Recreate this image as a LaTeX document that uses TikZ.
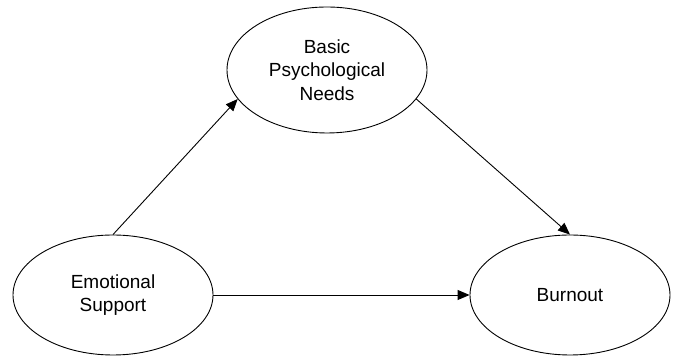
\documentclass[tikz,border=0pt]{standalone}
\usepackage{fontspec}
\setmainfont{Liberation Sans}
\usetikzlibrary{shapes.geometric, arrows.meta}

\begin{document}
\begin{tikzpicture}[>={Triangle[length=12pt, width=10pt]}, line width=0.9pt,
        font=\fontsize{19}{23.5}\selectfont]
        \useasboundingbox (0pt,0pt) rectangle (677pt,363pt);
        \node[draw, ellipse, align=center, inner sep=0pt, minimum width=200pt, minimum height=126pt]
            (A0) at (327pt,293pt) {Basic\\Psychological\\Needs};
        \node[draw, ellipse, align=center, inner sep=0pt, minimum width=200pt, minimum height=120pt]
            (A1) at (113pt,68pt)  {Emotional\\Support};
        \node[draw, ellipse, align=center, inner sep=0pt, minimum width=200pt, minimum height=120pt]
            (A2) at (570pt,68pt)  {Burnout};

        \draw[->] (A1.north) -- (A0.198);
        \draw[->] (A0.-18) -- (A2.north);
        \draw[->] (A1) -- (A2);
      \end{tikzpicture}
\end{document}
